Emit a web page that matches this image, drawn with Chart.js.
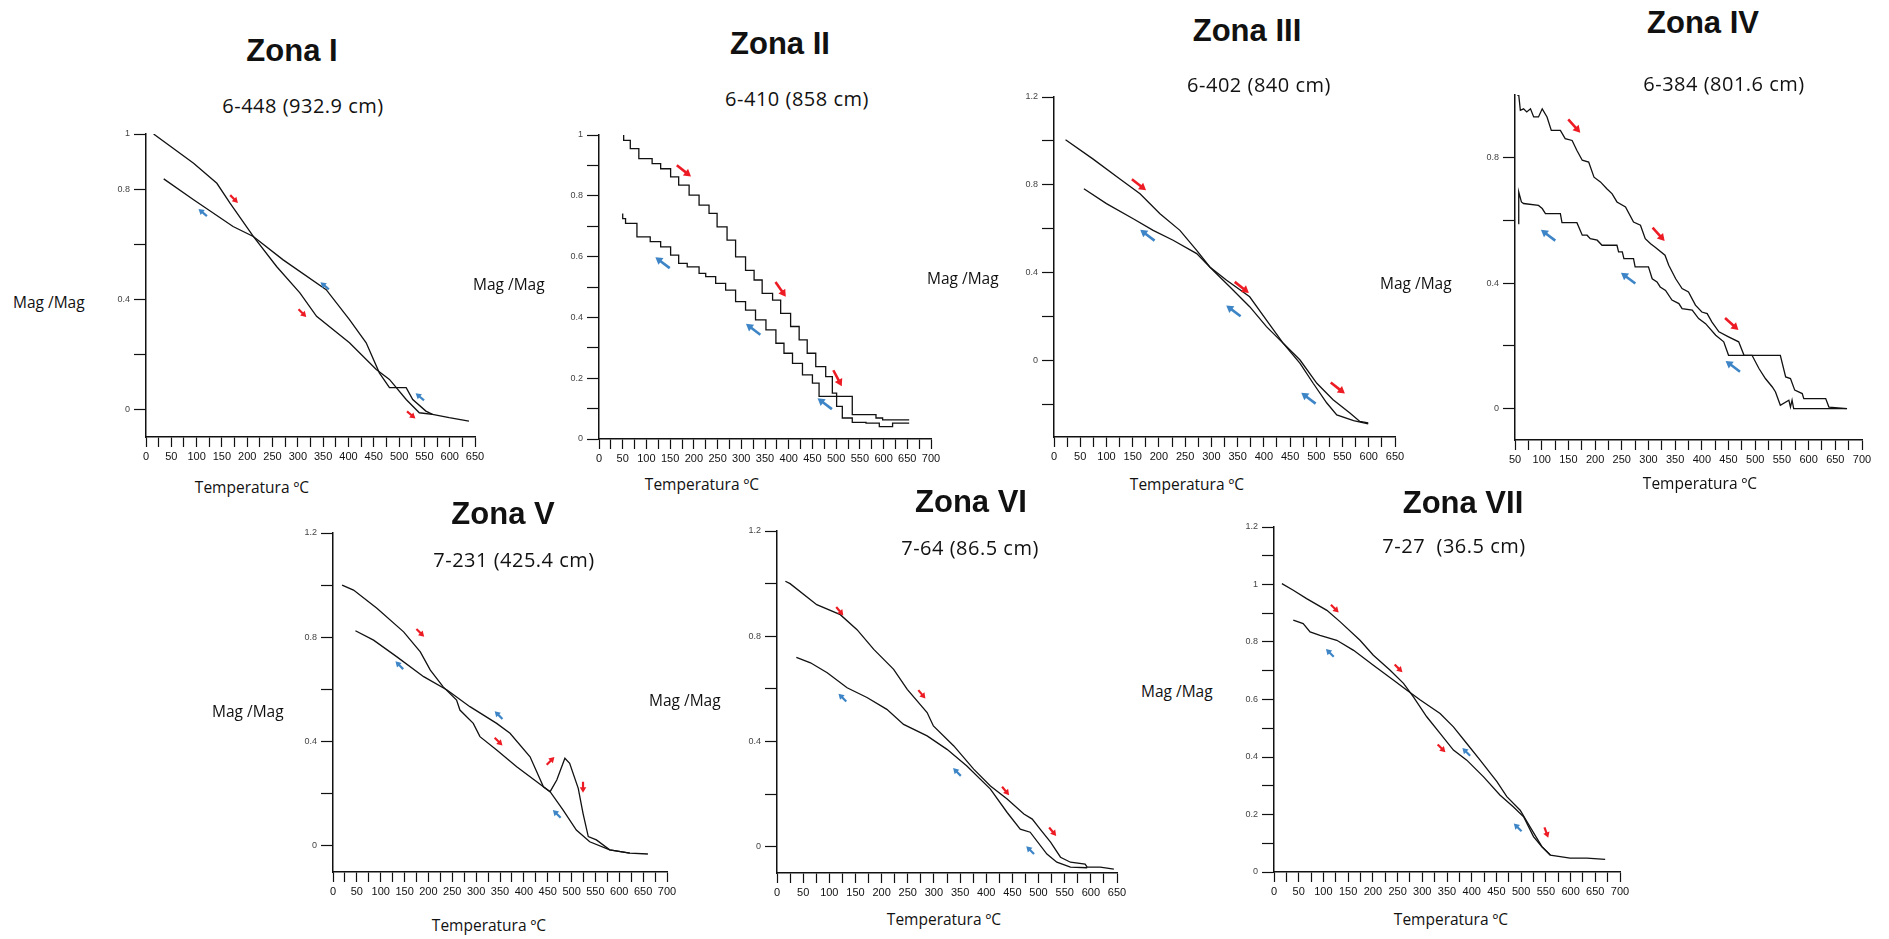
<!DOCTYPE html>
<html>
<head>
<meta charset="utf-8">
<script src="https://cdn.jsdelivr.net/npm/chart.js"></script>
<style>
  body { margin: 0; background: #fff; width: 1889px; height: 939px; overflow: hidden; position: relative; font-family: "Open Sans", sans-serif; color: #111; }
  canvas { position: absolute; }
  .t { position: absolute; white-space: nowrap; line-height: 1; transform: translate(-50%, -50%); }
  .title { font: bold 31px "Liberation Sans", Arial, sans-serif; }
  .sub { font-size: 20px; letter-spacing: 0.5px; }
  .ylab { font-size: 15.5px; transform: translateY(-50%); }
  .xlab { font-size: 15.5px; }
</style>
</head>
<body>
<script>
// ---- data (temperature in ºC, normalised magnetisation) ----
const zone1HeatT = [15, 94, 140, 166, 212, 258, 304, 337, 402, 455, 481, 514, 540, 566, 599, 638];
const zone1HeatM = [1.0, 0.894, 0.821, 0.749, 0.628, 0.519, 0.423, 0.338, 0.242, 0.145, 0.109, 0.036, -0.012, -0.018, -0.030, -0.042];
const zone1CoolT = [35, 94, 172, 212, 271, 356, 402, 435, 461, 481, 514, 527, 553, 566];
const zone1CoolM = [0.837, 0.761, 0.664, 0.628, 0.543, 0.435, 0.326, 0.242, 0.133, 0.079, 0.079, 0.036, -0.006, -0.018];

const zone2HeatT = [52, 66, 84, 112, 130, 151, 168, 190, 211, 232, 249, 270, 288, 309, 327, 344, 366, 383, 404, 422, 439, 457, 478, 492, 501, 513, 534, 563, 591, 619, 654];
const zone2HeatM = [1.0, 0.982, 0.955, 0.922, 0.906, 0.889, 0.862, 0.835, 0.802, 0.769, 0.742, 0.698, 0.654, 0.599, 0.555, 0.523, 0.479, 0.457, 0.413, 0.370, 0.326, 0.282, 0.238, 0.205, 0.151, 0.107, 0.069, 0.055, 0.052, 0.041, 0.052];
const zone2CoolT = [50, 56, 80, 108, 130, 151, 168, 186, 211, 225, 246, 267, 288, 309, 330, 352, 373, 390, 408, 429, 450, 464, 475, 534, 556, 584, 598, 654];
const zone2CoolM = [0.742, 0.725, 0.709, 0.665, 0.649, 0.632, 0.605, 0.578, 0.566, 0.545, 0.534, 0.512, 0.490, 0.452, 0.424, 0.392, 0.359, 0.315, 0.282, 0.249, 0.211, 0.184, 0.140, 0.140, 0.080, 0.080, 0.069, 0.063];

const zone3HeatT = [22, 74, 125, 164, 202, 240, 272, 297, 329, 373, 405, 437, 469, 501, 532, 564, 583, 599];
const zone3HeatM = [1.005, 0.918, 0.827, 0.759, 0.668, 0.592, 0.501, 0.425, 0.365, 0.289, 0.183, 0.077, 0.001, -0.105, -0.180, -0.241, -0.279, -0.286];
const zone3CoolT = [57, 100, 151, 189, 227, 272, 303, 335, 373, 405, 437, 469, 494, 520, 539, 571, 599];
const zone3CoolM = [0.782, 0.714, 0.645, 0.592, 0.547, 0.486, 0.410, 0.335, 0.244, 0.153, 0.077, -0.014, -0.105, -0.195, -0.249, -0.275, -0.29];

const zone4HeatT = [54, 57, 60, 66, 72, 79, 85, 94, 101, 110, 118, 135, 144, 157, 166, 176, 188, 198, 210, 222, 232, 241, 257, 272, 285, 294, 304, 312, 331, 338, 351, 363, 375, 388, 400, 410, 419, 432, 450, 469, 479, 547, 557, 566, 574, 588, 591, 632, 638, 672];
const zone4HeatM = [1.0, 1.0, 0.951, 0.956, 0.946, 0.956, 0.930, 0.930, 0.956, 0.930, 0.887, 0.887, 0.861, 0.855, 0.823, 0.792, 0.786, 0.738, 0.723, 0.701, 0.685, 0.659, 0.643, 0.595, 0.585, 0.542, 0.526, 0.515, 0.489, 0.457, 0.414, 0.383, 0.372, 0.330, 0.308, 0.303, 0.276, 0.245, 0.229, 0.213, 0.170, 0.170, 0.101, 0.096, 0.059, 0.048, 0.032, 0.032, 0.005, 0.0];
const zone4CoolT = [56, 57, 62, 66, 94, 101, 107, 135, 138, 166, 176, 185, 191, 204, 213, 241, 244, 251, 254, 272, 275, 300, 307, 316, 322, 332, 344, 357, 363, 382, 394, 407, 426, 441, 450, 494, 507, 519, 532, 538, 547, 563, 566, 569, 572, 671];
const zone4CoolM = [0.590, 0.691, 0.659, 0.654, 0.648, 0.638, 0.622, 0.622, 0.593, 0.593, 0.553, 0.553, 0.542, 0.537, 0.521, 0.521, 0.500, 0.500, 0.478, 0.478, 0.452, 0.452, 0.414, 0.404, 0.388, 0.377, 0.346, 0.335, 0.319, 0.314, 0.287, 0.271, 0.234, 0.213, 0.170, 0.170, 0.128, 0.096, 0.069, 0.053, 0.011, 0.027, 0.005, 0.027, 0.0, 0.0];

const zone5HeatT = [19, 43, 92, 148, 183, 204, 231, 259, 266, 294, 308, 343, 385, 427, 455, 469, 486, 496, 514, 524, 535, 552, 580, 622, 660];
const zone5HeatM = [1.0, 0.981, 0.911, 0.821, 0.744, 0.674, 0.610, 0.559, 0.521, 0.470, 0.419, 0.368, 0.304, 0.246, 0.208, 0.253, 0.336, 0.317, 0.221, 0.125, 0.036, 0.023, -0.015, -0.028, -0.031];
const zone5CoolT = [47, 85, 134, 190, 239, 287, 343, 371, 413, 441, 455, 482, 510, 538, 580, 622];
const zone5CoolM = [0.825, 0.789, 0.725, 0.649, 0.598, 0.534, 0.470, 0.432, 0.342, 0.227, 0.208, 0.138, 0.061, 0.016, -0.015, -0.028];

const zone6HeatT = [16, 25, 76, 121, 153, 185, 223, 249, 287, 299, 338, 376, 408, 440, 472, 488, 503, 523, 542, 561, 589, 593, 618, 644];
const zone6HeatM = [1.009, 1.0, 0.920, 0.882, 0.825, 0.750, 0.674, 0.598, 0.510, 0.459, 0.383, 0.295, 0.231, 0.181, 0.124, 0.105, 0.067, 0.017, -0.040, -0.059, -0.066, -0.078, -0.078, -0.085];
const zone6CoolT = [37, 64, 96, 134, 172, 210, 242, 287, 325, 363, 408, 440, 465, 484, 516, 535, 561, 593];
const zone6CoolM = [0.720, 0.699, 0.661, 0.604, 0.567, 0.522, 0.465, 0.421, 0.370, 0.307, 0.219, 0.130, 0.067, 0.055, -0.028, -0.059, -0.078, -0.08];

const zone7HeatT = [16, 39, 66, 107, 134, 174, 201, 235, 262, 282, 309, 336, 363, 390, 424, 457, 484, 505, 525, 542, 559, 599, 633, 670];
const zone7HeatM = [1.003, 0.980, 0.951, 0.910, 0.870, 0.806, 0.754, 0.702, 0.656, 0.609, 0.540, 0.482, 0.424, 0.389, 0.331, 0.268, 0.227, 0.192, 0.123, 0.088, 0.059, 0.048, 0.048, 0.044];
const zone7CoolT = [39, 59, 73, 93, 127, 161, 201, 242, 269, 296, 336, 363, 390, 417, 451, 471, 498, 518, 542, 559];
const zone7CoolM = [0.876, 0.864, 0.835, 0.823, 0.806, 0.771, 0.719, 0.667, 0.632, 0.598, 0.551, 0.505, 0.447, 0.389, 0.314, 0.262, 0.215, 0.157, 0.088, 0.059];

// arrows: [temperature, value, direction in degrees]
const zone1Red = [[174, 0.764, 45], [309, 0.350, 45], [524, -0.02, 40]];
const zone1Blue = [[112, 0.715, 220], [353, 0.449, 220], [541, 0.046, 220]];
const zone2Red = [[179, 0.882, 38], [383, 0.492, 55], [503, 0.2, 62]];
const zone2Blue = [[134, 0.580, 217], [325, 0.361, 217], [476, 0.116, 217]];
const zone3Red = [[162, 0.8, 38], [358, 0.332, 38], [541, -0.127, 38]];
const zone3Blue = [[178, 0.570, 217], [342, 0.225, 217], [485, -0.173, 217]];
const zone4Red = [[161, 0.901, 48], [319, 0.556, 48], [456, 0.27, 42]];
const zone4Blue = [[112, 0.553, 217], [262, 0.416, 217], [458, 0.135, 217]];
const zone5Red = [[183, 0.817, 45], [347, 0.400, 45], [456, 0.326, -45], [524, 0.225, 90]];
const zone5Blue = [[139, 0.693, 225], [347, 0.502, 225], [469, 0.123, 225]];
const zone6Red = [[120, 0.895, 50], [277, 0.579, 50], [437, 0.212, 50], [527, 0.057, 50]];
const zone6Blue = [[125, 0.567, 225], [344, 0.284, 225], [484, -0.013, 225]];
const zone7Red = [[123, 0.916, 45], [252, 0.708, 45], [339, 0.430, 45], [551, 0.137, 70]];
const zone7Blue = [[113, 0.762, 225], [389, 0.418, 225], [493, 0.155, 225]];

// axis ticks and their labels
const yTicksFifth = [0, 0.2, 0.4, 0.6, 0.8, 1];
const yTicksTenth = [0, 0.1, 0.2, 0.3, 0.4, 0.5, 0.6, 0.7, 0.8, 0.9, 1];
const yTicksZone3 = [-0.2, 0, 0.2, 0.4, 0.6, 0.8, 1, 1.2];
const yTicksZone4 = [0, 0.2, 0.4, 0.6, 0.8];
const yTicksTo12 = [0, 0.2, 0.4, 0.6, 0.8, 1, 1.2];
const yTicksZone7 = [0, 0.1, 0.2, 0.3, 0.4, 0.5, 0.6, 0.7, 0.8, 0.9, 1, 1.1, 1.2];
const yLabelsZone1 = [0, 0.4, 0.8, 1];
const yLabelsZone2 = [0, 0.2, 0.4, 0.6, 0.8, 1];
const yLabelsSparse = [0, 0.4, 0.8, 1.2];
const yLabelsZone4 = [0, 0.4, 0.8];
const yLabelsZone7 = [0, 0.2, 0.4, 0.6, 0.8, 1, 1.2];

const titles = ['Zona I', 'Zona II', 'Zona III', 'Zona IV', 'Zona V', 'Zona VI', 'Zona VII'];
const subtitles = ['6-448 (932.9 cm)', '6-410 (858 cm)', '6-402 (840 cm)', '6-384 (801.6 cm)', '7-231 (425.4 cm)', '7-64 (86.5 cm)', '7-27\u00a0 (36.5 cm)'];

// ---- layout ----
const panels = [
  { box: [146, 134, 475, 437], x: [0, 650], y: [-0.1, 1], yTicks: yTicksFifth, yLabels: yLabelsZone1,
    heat: [zone1HeatT, zone1HeatM], cool: [zone1CoolT, zone1CoolM], red: zone1Red, blue: zone1Blue,
    titleAt: [292, 51], subAt: [303, 106], yLabAt: [13, 303], xLabAt: [252, 488] },
  { box: [599, 135, 931, 439], x: [0, 700], y: [0, 1], yTicks: yTicksTenth, yLabels: yLabelsZone2,
    heat: [zone2HeatT, zone2HeatM], cool: [zone2CoolT, zone2CoolM], red: zone2Red, blue: zone2Blue, stepped: true, big: true,
    titleAt: [780, 44], subAt: [797, 99], yLabAt: [473, 285], xLabAt: [702, 485] },
  { box: [1054, 97, 1395, 437], x: [0, 650], y: [-0.35, 1.2], yTicks: yTicksZone3, yLabels: yLabelsSparse,
    heat: [zone3HeatT, zone3HeatM], cool: [zone3CoolT, zone3CoolM], red: zone3Red, blue: zone3Blue, big: true,
    titleAt: [1247, 31], subAt: [1259, 85], yLabAt: [927, 279], xLabAt: [1187, 485] },
  { box: [1515, 95, 1862, 440], x: [50, 700], y: [-0.1, 1], yTicks: yTicksZone4, yLabels: yLabelsZone4,
    heat: [zone4HeatT, zone4HeatM], cool: [zone4CoolT, zone4CoolM], red: zone4Red, blue: zone4Blue, big: true,
    titleAt: [1703, 23], subAt: [1724, 84], yLabAt: [1380, 284], xLabAt: [1700, 484] },
  { box: [333, 533, 667, 872], x: [0, 700], y: [-0.1, 1.2], yTicks: yTicksTo12, yLabels: yLabelsSparse,
    heat: [zone5HeatT, zone5HeatM], cool: [zone5CoolT, zone5CoolM], red: zone5Red, blue: zone5Blue,
    titleAt: [503, 514], subAt: [514, 560], yLabAt: [212, 712], xLabAt: [489, 926] },
  { box: [777, 531, 1117, 873], x: [0, 650], y: [-0.1, 1.2], yTicks: yTicksTo12, yLabels: yLabelsSparse,
    heat: [zone6HeatT, zone6HeatM], cool: [zone6CoolT, zone6CoolM], red: zone6Red, blue: zone6Blue,
    titleAt: [971, 502], subAt: [970, 548], yLabAt: [649, 701], xLabAt: [944, 920] },
  { box: [1274, 527, 1620, 872], x: [0, 700], y: [0, 1.2], yTicks: yTicksZone7, yLabels: yLabelsZone7,
    heat: [zone7HeatT, zone7HeatM], cool: [zone7CoolT, zone7CoolM], red: zone7Red, blue: zone7Blue,
    titleAt: [1463, 503], subAt: [1454, 546], yLabAt: [1141, 692], xLabAt: [1451, 920] }
];

const RED = '#ed1c24';
const BLUE = '#3d85c6';

const arrowPlugin = {
  id: 'arrows',
  afterDatasetsDraw(chart, args, opts) {
    const { ctx, scales: { x, y } } = chart;
    const len = opts.big ? 18 : 11, head = opts.big ? 7 : 5.5, lw = opts.big ? 2.6 : 2.2;
    const draw = (list, color) => list.forEach(([t, m, deg]) => {
      const cx = x.getPixelForValue(t), cy = y.getPixelForValue(m);
      const a = deg * Math.PI / 180, dx = Math.cos(a), dy = Math.sin(a);
      const tipX = cx + dx * len / 2, tipY = cy + dy * len / 2;
      ctx.save();
      ctx.strokeStyle = color; ctx.fillStyle = color; ctx.lineWidth = lw; ctx.lineCap = 'butt';
      ctx.beginPath();
      ctx.moveTo(cx - dx * len / 2, cy - dy * len / 2);
      ctx.lineTo(tipX - dx * head * 0.7, tipY - dy * head * 0.7);
      ctx.stroke();
      ctx.beginPath();
      ctx.moveTo(tipX, tipY);
      ctx.lineTo(tipX - dx * head - dy * head * 0.6, tipY - dy * head + dx * head * 0.6);
      ctx.lineTo(tipX - dx * head + dy * head * 0.6, tipY - dy * head - dx * head * 0.6);
      ctx.closePath();
      ctx.fill();
      ctx.restore();
    });
    draw(opts.red, RED);
    draw(opts.blue, BLUE);
  }
};

function toPoints(pair) {
  return pair[0].map((t, i) => ({ x: t, y: pair[1][i] }));
}

function addText(cls, text, at) {
  const d = document.createElement('div');
  d.className = 't ' + cls;
  d.textContent = text;
  d.style.left = at[0] + 'px';
  d.style.top = at[1] + 'px';
  document.body.appendChild(d);
}

const padL = 50, padT = 12, padR = 18, padB = 34;

panels.forEach((p, i) => {
  const [L, T, R, B] = p.box;
  const w = R - L + padL + padR, h = B - T + padT + padB;
  const cv = document.createElement('canvas');
  cv.width = w; cv.height = h;
  cv.style.left = (L - padL) + 'px';
  cv.style.top = (T - padT) + 'px';
  cv.style.width = w + 'px';
  cv.style.height = h + 'px';
  document.body.appendChild(cv);

  const xTicks = [];
  for (let v = p.x[0]; v <= p.x[1]; v += 25) xTicks.push(v);

  const line = {
    borderColor: '#111', borderWidth: 1.3, pointRadius: 0, tension: 0,
    stepped: p.stepped ? 'after' : false
  };

  new Chart(cv, {
    type: 'line',
    data: {
      datasets: [
        Object.assign({ data: toPoints(p.heat) }, line),
        Object.assign({ data: toPoints(p.cool) }, line)
      ]
    },
    options: {
      responsive: false,
      animation: false,
      devicePixelRatio: 1,
      layout: { padding: { left: 0, top: padT, right: padR, bottom: 0 } },
      plugins: {
        legend: { display: false },
        tooltip: { enabled: false },
        arrows: { red: p.red, blue: p.blue, big: !!p.big }
      },
      scales: {
        x: {
          type: 'linear', min: p.x[0], max: p.x[1],
          afterBuildTicks: (axis) => { axis.ticks = xTicks.map(v => ({ value: v })); },
          afterFit: (s) => { s.height = padB; },
          ticks: {
            autoSkip: false, maxRotation: 0, padding: 3, color: '#111',
            font: { size: 11, family: '"Liberation Sans", Arial, sans-serif' },
            callback: (v) => (v % 50 === 0 ? String(v) : '')
          },
          grid: { drawOnChartArea: false, tickLength: 10, tickColor: '#111', tickWidth: 1.2 },
          border: { color: '#111', width: 1.5 }
        },
        y: {
          type: 'linear', min: p.y[0], max: p.y[1],
          afterBuildTicks: (axis) => { axis.ticks = p.yTicks.map(v => ({ value: v })); },
          afterFit: (s) => { s.width = padL; },
          ticks: {
            padding: 4, color: '#444',
            font: { size: 9, family: '"Liberation Sans", Arial, sans-serif' },
            callback: (v) => (p.yLabels.includes(v) ? String(v) : '')
          },
          grid: { drawOnChartArea: false, tickLength: 12, tickColor: '#111', tickWidth: 1.2 },
          border: { color: '#111', width: 1.5 }
        }
      }
    },
    plugins: [arrowPlugin]
  });

  addText('title', titles[i], p.titleAt);
  addText('sub', subtitles[i], p.subAt);
  addText('ylab', 'Mag /Mag', p.yLabAt);
  addText('xlab', 'Temperatura \u00baC', p.xLabAt);
});
</script>
</body>
</html>
